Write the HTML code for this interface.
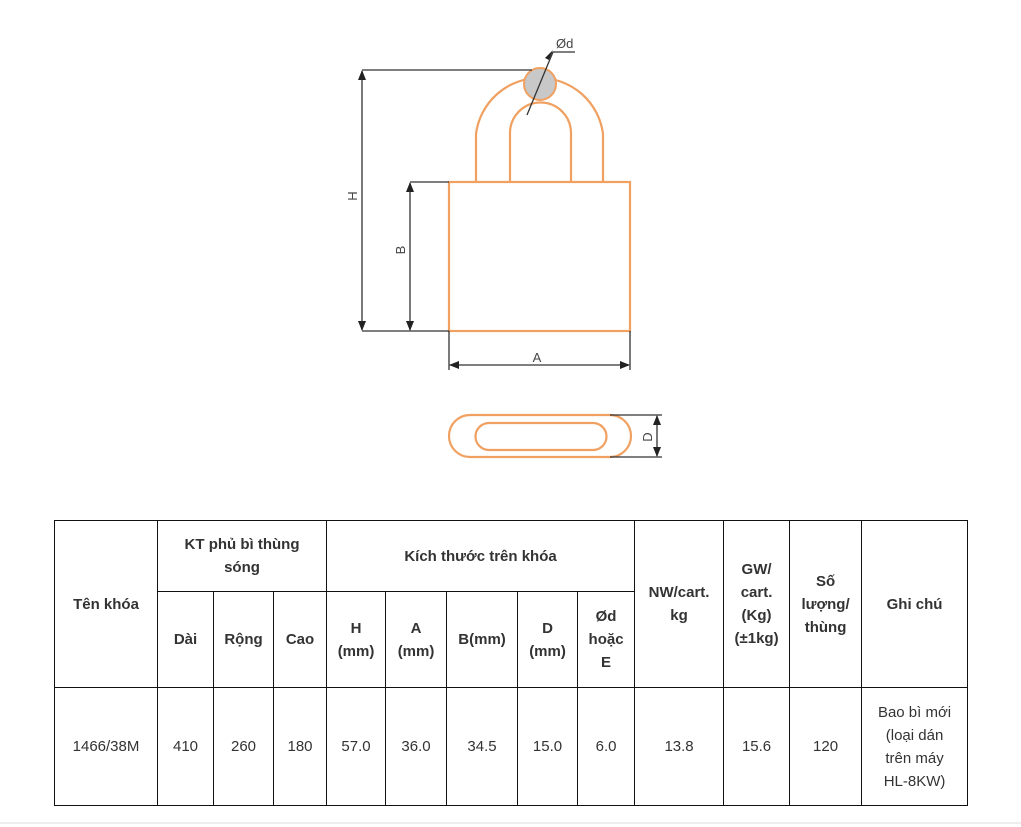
<!DOCTYPE html>
<html><head><meta charset="utf-8"><style>
html,body{margin:0;padding:0;background:#fff;width:1021px;height:827px;overflow:hidden;position:relative;font-family:"Liberation Sans",Arial,sans-serif;}
svg{position:absolute;left:0;top:0}
table{position:absolute;left:54px;top:520px;border-collapse:collapse;table-layout:fixed;width:913px;color:#333;font-size:15px;line-height:23px}
td{border:1px solid #111;text-align:center;vertical-align:middle;padding:0 8px}
.h td,td.b{font-weight:bold}
</style></head><body>
<svg width="1021" height="827" viewBox="0 0 1021 827">
<defs><marker id="ar" markerWidth="10" markerHeight="8" refX="9" refY="4" orient="auto" markerUnits="userSpaceOnUse"><path d="M0,0 L10,4 L0,8 z" fill="#222"/></marker></defs>
<g fill="none" stroke="#f0a060" stroke-width="2.2">
<path d="M476,182 L476,134 A64,64 0 0 1 603,134 L603,182"/>
<path d="M510,182 L510,133 A30.5,30.5 0 0 1 571,133 L571,182"/>
<rect x="449" y="182" width="181" height="149"/>
<path d="M470,415 L610,415 A21,21 0 0 1 610,457 L470,457 A21,21 0 0 1 470,415 Z"/>
<path d="M489,423 L593,423 A13.5,13.5 0 0 1 593,450 L489,450 A13.5,13.5 0 0 1 489,423 Z"/>
</g>
<circle cx="540" cy="84" r="16" fill="#c8c8c8" stroke="#f0a060" stroke-width="2"/>
<g stroke="#333" stroke-width="1.3" fill="none">
<line x1="362" y1="70" x2="532" y2="70"/>
<line x1="362" y1="331" x2="449" y2="331"/>
<line x1="410" y1="182" x2="449" y2="182"/>
<line x1="449" y1="331" x2="449" y2="370"/>
<line x1="630" y1="331" x2="630" y2="370"/>
<line x1="362" y1="200" x2="362" y2="71" marker-end="url(#ar)"/>
<line x1="362" y1="200" x2="362" y2="330" marker-end="url(#ar)"/>
<line x1="410" y1="250" x2="410" y2="183" marker-end="url(#ar)"/>
<line x1="410" y1="250" x2="410" y2="330" marker-end="url(#ar)"/>
<line x1="540" y1="365" x2="450" y2="365" marker-end="url(#ar)"/>
<line x1="540" y1="365" x2="629" y2="365" marker-end="url(#ar)"/>
<line x1="610" y1="415" x2="662" y2="415"/>
<line x1="610" y1="457" x2="662" y2="457"/>
<line x1="657" y1="436" x2="657" y2="416" marker-end="url(#ar)"/>
<line x1="657" y1="436" x2="657" y2="456" marker-end="url(#ar)"/>
<line x1="527" y1="115" x2="548" y2="64"/>
<line x1="548" y1="64" x2="553" y2="52"/>
<line x1="553" y1="52" x2="575" y2="52"/>
</g>
<path d="M549,60 L553,50 L545,58Z" fill="#222"/>
<g font-family="Liberation Sans,Arial,sans-serif" font-size="13" fill="#444">
<text x="556" y="48">Ød</text>
<text x="0" y="0" transform="translate(357,196) rotate(-90)" text-anchor="middle">H</text>
<text x="0" y="0" transform="translate(405,250) rotate(-90)" text-anchor="middle">B</text>
<text x="537" y="362" text-anchor="middle">A</text>
<text x="0" y="0" transform="translate(652,437) rotate(-90)" text-anchor="middle">D</text>
</g>
<line x1="0" y1="823" x2="1021" y2="823" stroke="#ddd" stroke-width="1"/>
</svg>
<table>
<colgroup><col style="width:103px"><col style="width:56px"><col style="width:60px"><col style="width:53px"><col style="width:59px"><col style="width:61px"><col style="width:71px"><col style="width:60px"><col style="width:57px"><col style="width:89px"><col style="width:66px"><col style="width:72px"><col style="width:106px"></colgroup>
<tr class="h" style="height:71px"><td rowspan="2">Tên khóa</td><td colspan="3" style="padding:0 14px">KT phủ bì thùng sóng</td><td colspan="5">Kích thước trên khóa</td><td rowspan="2">NW/cart. kg</td><td rowspan="2">GW/ cart. (Kg) (±1kg)</td><td rowspan="2">Số lượng/ thùng</td><td rowspan="2">Ghi chú</td></tr>
<tr class="h" style="height:96px"><td>Dài</td><td style="padding:0 4px">Rộng</td><td>Cao</td><td>H (mm)</td><td>A (mm)</td><td>B(mm)</td><td>D (mm)</td><td style="padding:0 6px">Ød hoặc E</td></tr>
<tr style="height:118px"><td>1466/38M</td><td>410</td><td>260</td><td>180</td><td>57.0</td><td>36.0</td><td>34.5</td><td>15.0</td><td>6.0</td><td>13.8</td><td>15.6</td><td>120</td><td style="padding:0 14px">Bao bì mới (loại dán trên máy HL-8KW)</td></tr>
</table>
</body></html>
